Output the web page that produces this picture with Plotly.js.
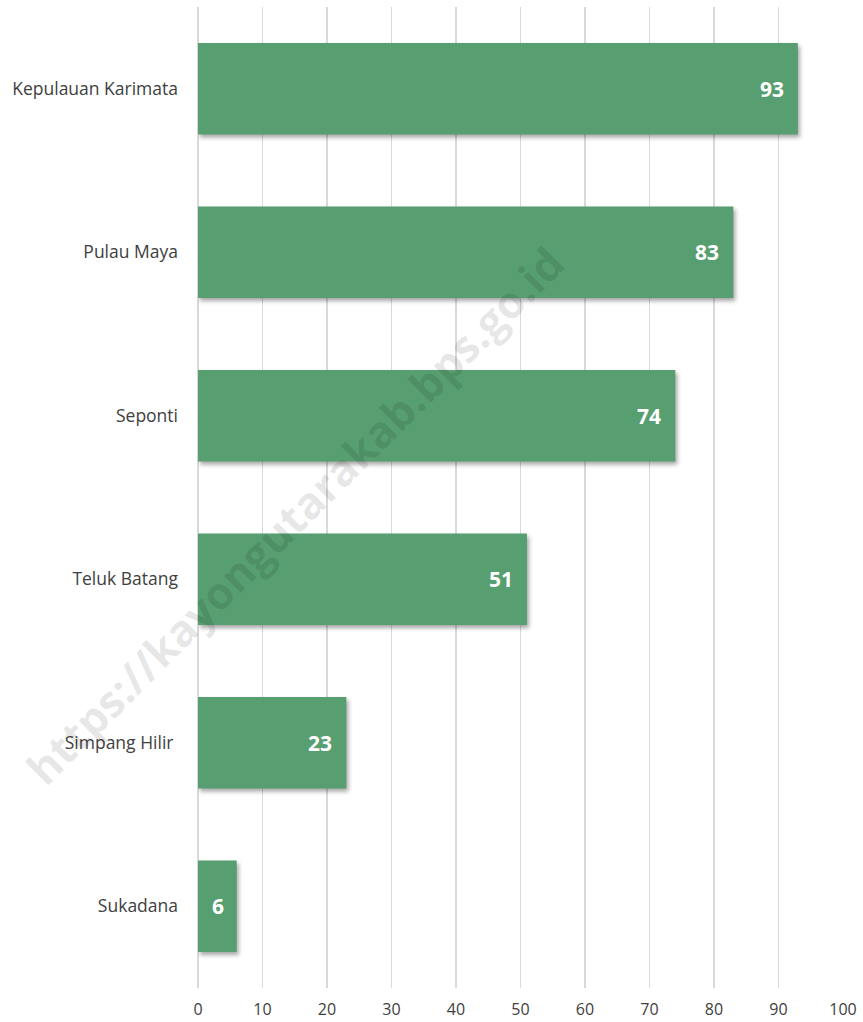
<!DOCTYPE html>
<html>
<head>
<meta charset="utf-8">
<script src="https://cdn.plot.ly/plotly-3.0.1.min.js"></script>
<style>
  html, body { margin: 0; padding: 0; background: #fff; }
  #chart { width: 863px; height: 1022px; }
  .bars path { filter: drop-shadow(2px 3px 2px rgba(0,0,0,0.35)); }
</style>
</head>
<body>
<div id="chart"></div>
<script>
// kecamatan, ordered bottom to top
const districts = ['Sukadana', 'Simpang Hilir ', 'Teluk Batang', 'Seponti', 'Pulau Maya', 'Kepulauan Karimata'];
const values = [6, 23, 51, 74, 83, 93];
const xTicks = [0, 10, 20, 30, 40, 50, 60, 70, 80, 90, 100];

const barColor = '#579e70';
const fontFamily = '"Open Sans", "Noto Sans", sans-serif';

const trace = {
  type: 'bar',
  orientation: 'h',
  x: values,
  y: districts,
  width: 0.56,
  marker: { color: barColor },
  hoverinfo: 'x+y'
};

// value labels sit inside the bar end, a little way in from the edge
const valueLabels = values.map((v, i) => ({
  x: v,
  y: districts[i],
  xref: 'x', yref: 'y',
  text: '<b>' + v + '</b>',
  showarrow: false,
  xanchor: v < 10 ? 'center' : 'right',
  xshift: v < 10 ? -v * 3.2 : -12,
  yanchor: 'middle',
  font: { family: fontFamily, size: 21, color: '#ffffff' }
}));

const watermark = {
  text: '<b>https://kayongutarakab.bps.go.id</b>',
  xref: 'paper', yref: 'paper',
  x: 0.15, y: 0.482,
  xanchor: 'center', yanchor: 'middle',
  showarrow: false,
  textangle: -45,
  font: { family: fontFamily, size: 44, color: 'rgba(0,0,0,0.1)' }
};

const layout = {
  width: 863,
  height: 1022,
  margin: { l: 198, r: 20, t: 7, b: 34, pad: 0 },
  paper_bgcolor: '#ffffff',
  plot_bgcolor: '#ffffff',
  showlegend: false,
  font: { family: fontFamily, color: '#404040', size: 17 },
  xaxis: {
    range: [0, 100],
    tickvals: xTicks,
    showgrid: true,
    gridcolor: '#d9d9d9',
    gridwidth: 1.5,
    zeroline: true,
    zerolinecolor: '#d9d9d9',
    zerolinewidth: 1.5,
    showline: false,
    ticks: '',
    ticklabelstandoff: 10,
    tickfont: { size: 16, color: '#404040' },
    fixedrange: true
  },
  yaxis: {
    showgrid: false,
    zeroline: false,
    showline: false,
    ticks: '',
    ticklabelstandoff: 19,
    tickfont: { size: 17.5, color: '#404040' },
    fixedrange: true
  },
  annotations: valueLabels.concat([watermark])
};

Plotly.newPlot('chart', [trace], layout, { displayModeBar: false, staticPlot: true });
</script>
</body>
</html>
